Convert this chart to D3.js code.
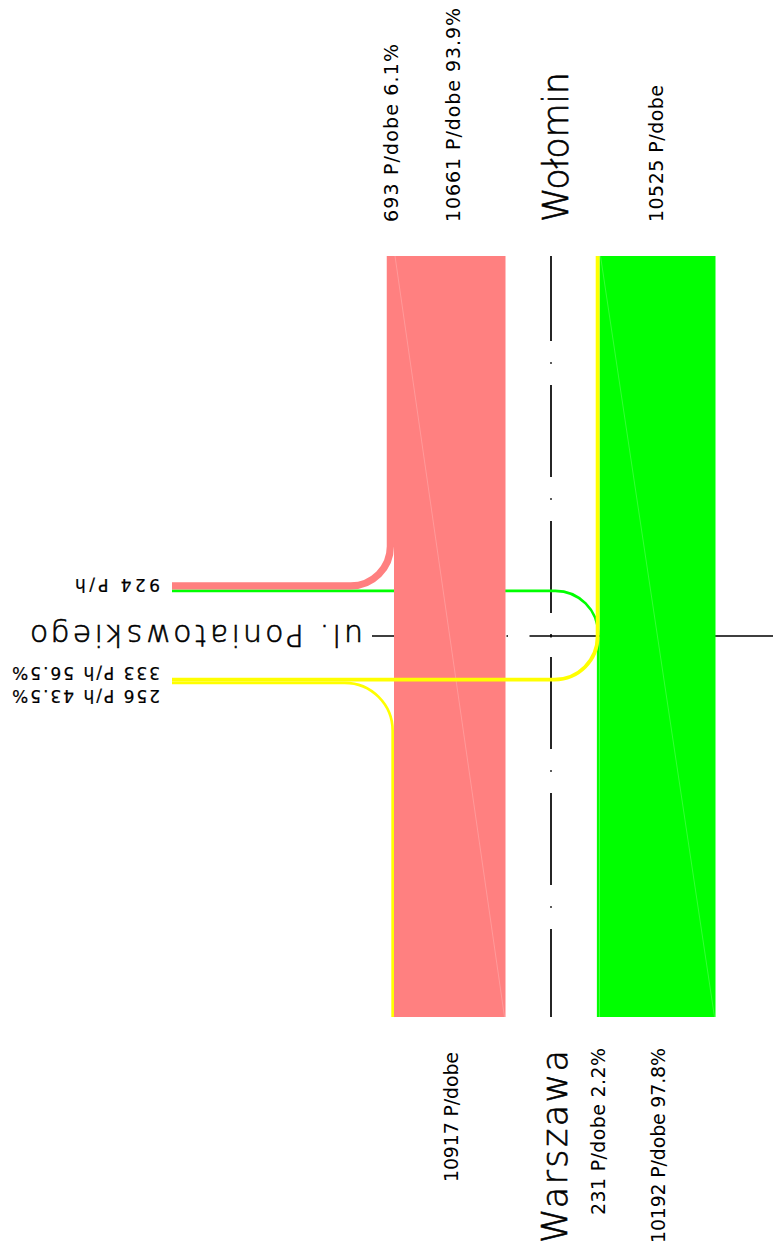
<!DOCTYPE html>
<html>
<head>
<meta charset="utf-8">
<script src="https://cdn.jsdelivr.net/npm/d3@7"></script>
<style>
  html, body { margin: 0; padding: 0; background: #fff; }
  svg { display: block; }
</style>
</head>
<body>
<div id="chart"></div>
<script>
// traffic streams at the junction, daily volumes (P/dobe)
const streams = ["Wołomin-Warszawa", "Wołomin-Poniatowskiego", "Warszawa-Wołomin", "Warszawa-Poniatowskiego", "Poniatowskiego-Wołomin", "Poniatowskiego-Warszawa"];
const dailyFlows = [10661, 693, 10192, 231, 333, 256];

// peak hour volumes on ul. Poniatowskiego (P/h)
const peakStreams = ["out", "Poniatowskiego-Wołomin", "Poniatowskiego-Warszawa"];
const peakFlows = [924, 333, 256];

const placeNames = ["Wołomin", "Warszawa", "ul. Poniatowskiego"];

const flow = name => dailyFlows[streams.indexOf(name)];
const pct = (v, total) => d3.format(".1f")(v / total * 100) + "%";

let width = 773, height = 1254;
let svg = d3.select("#chart").append("svg")
    .attr("width", width)
    .attr("height", height);

// band width scales (px per vehicle) for each carriageway
let wRed = d3.scaleLinear().domain([0, flow("Wołomin-Warszawa")]).range([0, 111.5]);
let wGreen = d3.scaleLinear().domain([0, flow("Warszawa-Wołomin")]).range([0, 116]);

let yTop = 256, yBot = 1017, xLeft = 172;
let redEdge = 394, greenEdge = 599.5;
let yOut = 589.5, yIn = 677.7;
let axisX = 551, axisY = 636;

const RED = "#ff8080", GREEN = "#00ff00", YELLOW = "#ffff00";

// road axes
svg.append("path")
    .attr("d", `M${axisX},${yTop}V${yBot}`)
    .style("stroke", "#000")
    .style("stroke-width", 1.7)
    .style("stroke-dasharray", "92 21.25 1.5 21.25")
    .style("stroke-dashoffset", 7);
svg.append("path")
    .attr("d", `M372,${axisY}H${width}`)
    .style("stroke", "#000")
    .style("stroke-width", 1.7)
    .style("stroke-dasharray", "113 21.5 1.5 21.5 400");

function strip(d, w, color) {
    svg.append("path")
        .attr("d", d.toString())
        .style("fill", "none")
        .style("stroke", color)
        .style("stroke-width", w)
        .style("stroke-linecap", "butt");
}

// Warszawa -> Poniatowskiego (green, turning left)
{
    let w = wGreen(flow("Warszawa-Poniatowskiego"));
    let x = greenEdge - w / 2, y = yOut + w / 2, r = 43;
    let p = d3.path();
    p.moveTo(x, yBot);
    p.lineTo(x, y + r);
    p.arc(x - r, y + r, r, 0, -Math.PI / 2, true);
    p.lineTo(xLeft, y);
    strip(p, w, GREEN);
}

// Wołomin -> Warszawa (red through band)
{
    let w = wRed(flow("Wołomin-Warszawa"));
    let p = d3.path();
    p.moveTo(redEdge + w / 2, yTop);
    p.lineTo(redEdge + w / 2, yBot);
    strip(p, w, RED);
    svg.append("line")
        .attr("x1", redEdge + 1).attr("y1", yTop)
        .attr("x2", redEdge + w - 1).attr("y2", yBot)
        .style("stroke", "#fff").style("stroke-opacity", 0.25).style("stroke-width", 0.8);
}

// Wołomin -> Poniatowskiego (red, turning right)
{
    let w = wRed(flow("Wołomin-Poniatowskiego"));
    let x = redEdge - w / 2, y = yOut - w / 2, r = 36 + w / 2;
    let p = d3.path();
    p.moveTo(x, yTop);
    p.lineTo(x, y - r);
    p.arc(x - r, y - r, r, 0, Math.PI / 2, false);
    p.lineTo(xLeft, y);
    strip(p, w, RED);
}

// Warszawa -> Wołomin (green through band)
{
    let w = wGreen(flow("Warszawa-Wołomin"));
    let p = d3.path();
    p.moveTo(greenEdge + w / 2, yTop);
    p.lineTo(greenEdge + w / 2, yBot);
    strip(p, w, GREEN);
    svg.append("line")
        .attr("x1", greenEdge + 1).attr("y1", yTop)
        .attr("x2", greenEdge + w - 1).attr("y2", yBot)
        .style("stroke", "#fff").style("stroke-opacity", 0.25).style("stroke-width", 0.8);
}

// Poniatowskiego -> Warszawa (yellow, turning right)
{
    let w = wRed(flow("Poniatowskiego-Warszawa"));
    let x = redEdge - w / 2, y = yIn + wGreen(flow("Poniatowskiego-Wołomin")) + w / 2, r = 48;
    let p = d3.path();
    p.moveTo(xLeft, y);
    p.lineTo(x - r, y);
    p.arc(x - r, y + r, r, -Math.PI / 2, 0, false);
    p.lineTo(x, yBot);
    strip(p, w, YELLOW);
}

// Poniatowskiego -> Wołomin (yellow, turning left across)
{
    let w = wGreen(flow("Poniatowskiego-Wołomin"));
    let x = greenEdge - w / 2, y = yIn + w / 2, r = 43;
    let p = d3.path();
    p.moveTo(xLeft, y);
    p.lineTo(x - r, y);
    p.arc(x - r, y - r, r, Math.PI / 2, 0, true);
    p.lineTo(x, yTop);
    strip(p, w, YELLOW);
}

// small tick where the axes cross
svg.append("path")
    .attr("d", `M${axisX},${axisY - 1.5}V${axisY + 1.5}`)
    .style("stroke", "#000").style("stroke-width", 1.6);

// labels
function label(text, x, y, angle, size, len, weight, outline) {
    svg.append("text")
        .attr("transform", `translate(${x},${y}) rotate(${angle})`)
        .attr("textLength", len)
        .attr("lengthAdjust", "spacing")
        .style("font-family", "'DejaVu Sans', sans-serif")
        .style("font-size", size + "px")
        .style("font-weight", weight || 400)
        .style("fill", "#000")
        .style("stroke", outline ? "#000" : "none")
        .style("stroke-width", outline || 0)
        .text(text);
}

let redTop = flow("Wołomin-Warszawa") + flow("Wołomin-Poniatowskiego");
let greenBot = flow("Warszawa-Wołomin") + flow("Warszawa-Poniatowskiego");
let redBot = flow("Wołomin-Warszawa") + flow("Poniatowskiego-Warszawa");
let greenTop = flow("Warszawa-Wołomin") + flow("Poniatowskiego-Wołomin");
let peakIn = peakFlows[1] + peakFlows[2];

label(`${flow("Wołomin-Poniatowskiego")} P/dobe ${pct(flow("Wołomin-Poniatowskiego"), redTop)}`, 398, 222, -90, 19, 178);
label(`${flow("Wołomin-Warszawa")} P/dobe  ${pct(flow("Wołomin-Warszawa"), redTop)}`, 460, 222, -90, 19, 214);
label(placeNames[0], 568, 222, -90, 35, 150, 200, 0.6);
label(`${greenTop} P/dobe`, 663, 222, -90, 19, 137);

label(`${redBot} P/dobe`, 458, 1182, -90, 19, 130);
label(placeNames[1], 567, 1243, -90, 35, 193, 200, 0.6);
label(`${flow("Warszawa-Poniatowskiego")} P/dobe ${pct(flow("Warszawa-Poniatowskiego"), greenBot)}`, 605, 1215, -90, 19, 167);
label(`${flow("Warszawa-Wołomin")} P/dobe  ${pct(flow("Warszawa-Wołomin"), greenBot)}`, 665, 1243, -90, 19, 195);

label(`${peakFlows[0]} P/h`, 160, 579, 180, 17, 85, 400, 0.2);
label(placeNames[2], 363, 625, 180, 30, 333, 200, 0.6);
label(`${peakFlows[1]} P/h ${pct(peakFlows[1], peakIn)}`, 160, 667, 180, 17, 148, 400, 0.2);
label(`${peakFlows[2]} P/h ${pct(peakFlows[2], peakIn)}`, 160, 690, 180, 17, 148, 400, 0.2);
</script>
</body>
</html>
